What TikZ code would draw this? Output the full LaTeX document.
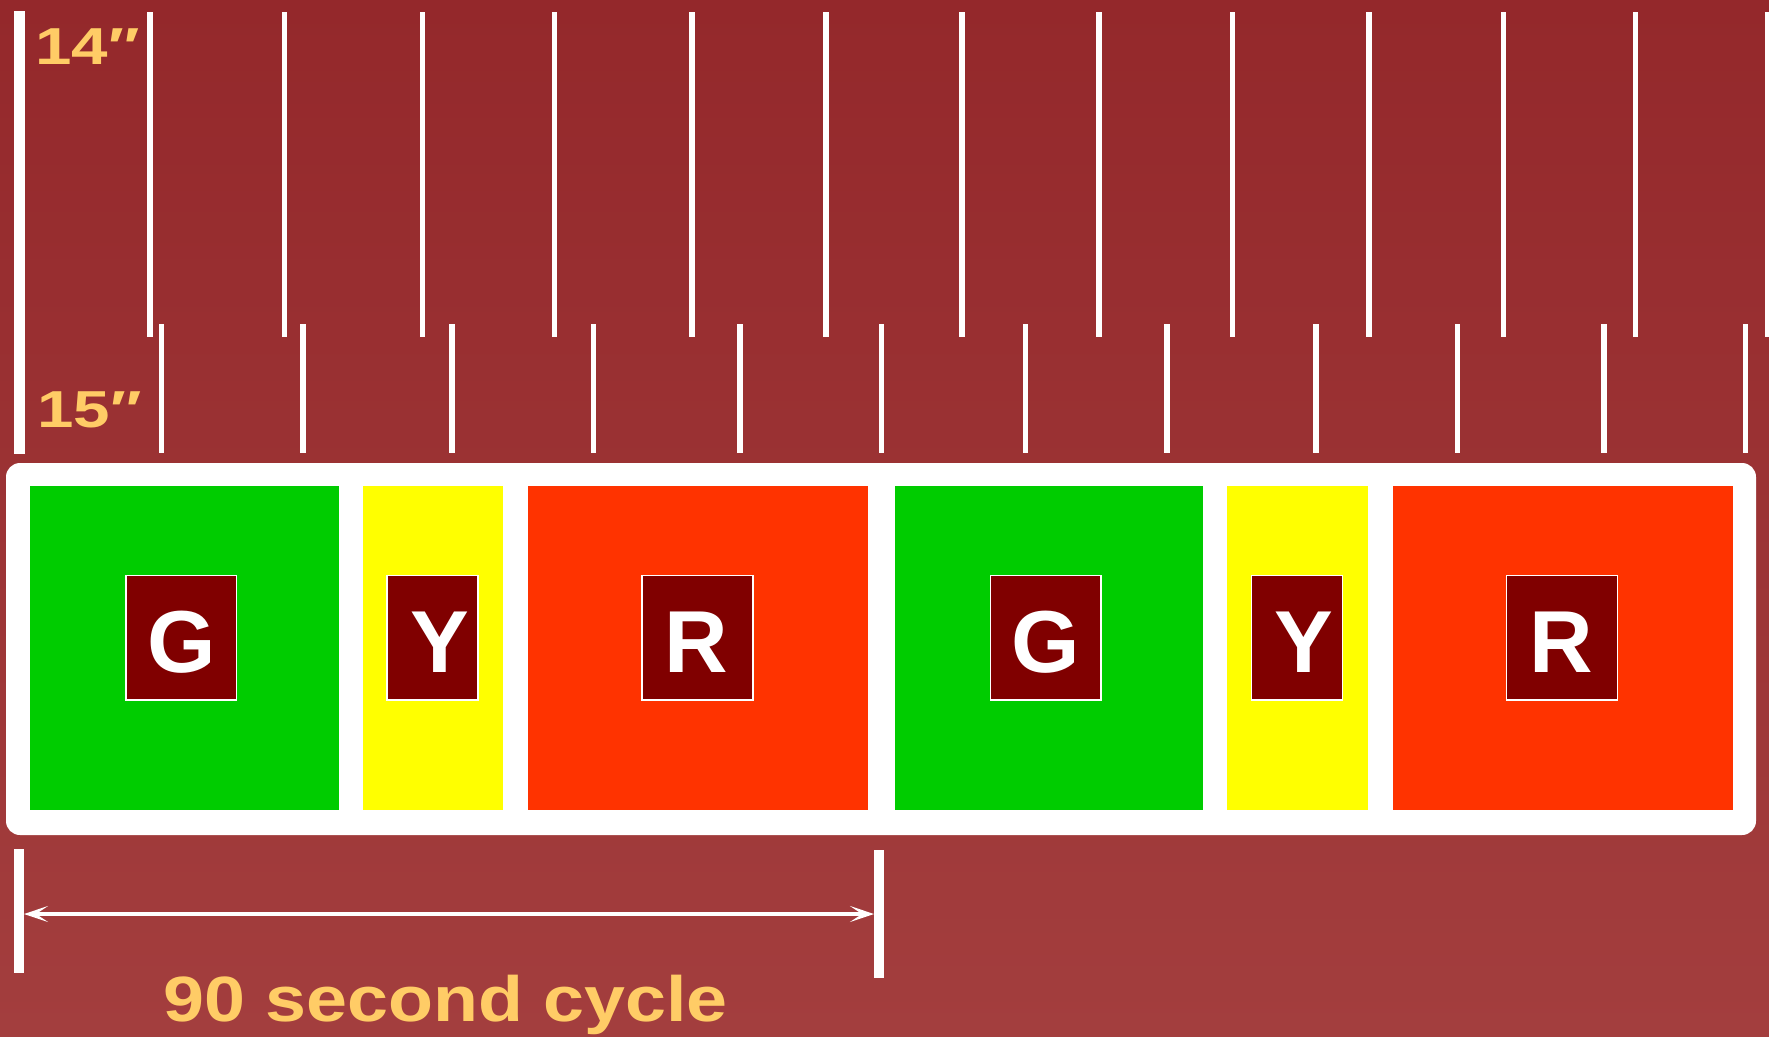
\documentclass[tikz,border=0pt]{standalone}
\usepackage{fontspec}
\usetikzlibrary{arrows.meta}
\setmainfont{Liberation Sans}
\newfontfamily\widesans{Liberation Sans}[FakeStretch=1.15]
\newfontfamily\widersans{Liberation Sans}[FakeStretch=1.26]
\definecolor{bgtop}{RGB}{148,40,43}
\definecolor{bgbot}{RGB}{163,62,62}
\definecolor{lblorange}{RGB}{255,204,102}
\definecolor{sqred}{RGB}{128,0,0}
\definecolor{lgreen}{RGB}{0,204,0}
\definecolor{lyellow}{RGB}{255,255,0}
\definecolor{lred}{RGB}{255,51,0}
\tikzset{
  bar/.style={draw=none, inner sep=0pt, minimum height=324pt},
  sq/.style={fill=sqred, draw=white, line width=1.5pt, inner sep=0pt, minimum height=124.5pt},
  letter/.style={text=white, inner sep=0pt, anchor=base, font=\bfseries\fontsize{88}{90}\selectfont},
  tick/.style={draw=white, line width=5.5pt},
  bigbar/.style={draw=white, line width=10.5pt},
  orangelbl/.style={text=lblorange, inner sep=0pt, anchor=base west},
  cyclearrow/.style={draw=white, line width=4.5pt,
    {Stealth[length=24pt,width=16pt,inset=12pt]}-{Stealth[length=24pt,width=16pt,inset=12pt]}}
}
\begin{document}
\begin{tikzpicture}[x=1pt,y=-1pt]
\useasboundingbox (0,0) rectangle (1769,1036);
\shade[top color=bgtop, bottom color=bgbot] (0,0) rectangle (1769,1036);

% tick marks
\draw[bigbar] (19.5,11) -- (19.5,454);
\foreach \x in {150,284.5,422.5,554.5,691.8,826,961.8,1099,1232.3,1368.8,1503.6,1635.3,1767.7}
  \draw[tick] (\x,12) -- (\x,337);
\foreach \x in {161.5,303,452,593.6,740,881.5,1025.7,1167,1316,1457.5,1604,1745.5}
  \draw[tick] (\x,324) -- (\x,453);

\node[orangelbl, font=\widersans\bfseries\fontsize{52}{60}\selectfont] (l14) at (35,64) {14″};
\node[orangelbl, font=\widersans\bfseries\fontsize{52}{60}\selectfont] (l15) at (37,427) {15″};

% white frame
\node[fill=white, rounded corners=14pt, inner sep=0pt, minimum width=1750pt, minimum height=372pt] (frame) at (881,649) {};

% coloured phases
\node[bar, fill=lgreen,  minimum width=308.5pt] (g1) at (184.25,648) {};
\node[bar, fill=lyellow, minimum width=140.2pt] (y1) at (432.9,648) {};
\node[bar, fill=lred,    minimum width=340pt]   (r1) at (698,648) {};
\node[bar, fill=lgreen,  minimum width=308.5pt] (g2) at (1048.75,648) {};
\node[bar, fill=lyellow, minimum width=140.2pt] (y2) at (1297.4,648) {};
\node[bar, fill=lred,    minimum width=340pt]   (r2) at (1562.5,648) {};

% letter squares
\node[sq, minimum width=110.5pt] (gs1) at (181.25,637.75) {};
\node[sq, minimum width=91pt]    (ys1) at (432.5,637.75) {};
\node[sq, minimum width=111pt]   (rs1) at (697.5,637.75) {};
\node[sq, minimum width=110.5pt] (gs2) at (1045.75,637.75) {};
\node[sq, minimum width=91pt]    (ys2) at (1297,637.75) {};
\node[sq, minimum width=111pt]   (rs2) at (1562,637.75) {};

\node[letter] (gt1) at (181.5,672) {G};
\node[letter] (yt1) at (439.7,672) {Y};
\node[letter] (rt1) at (696.6,672) {R};
\node[letter] (gt2) at (1046,672) {G};
\node[letter] (yt2) at (1304.2,672) {Y};
\node[letter] (rt2) at (1561.1,672) {R};

% cycle marker
\draw[bigbar] (19,849) -- (19,973);
\draw[bigbar] (879,850) -- (879,978);
\coordinate (al) at (24,914);
\coordinate (ar) at (874,914);
\draw[cyclearrow] (al) -- (ar);

\node[orangelbl, font=\widesans\bfseries\fontsize{64}{70}\selectfont] (cyc) at (163,1021) {90 second cycle};
\end{tikzpicture}
\end{document}
